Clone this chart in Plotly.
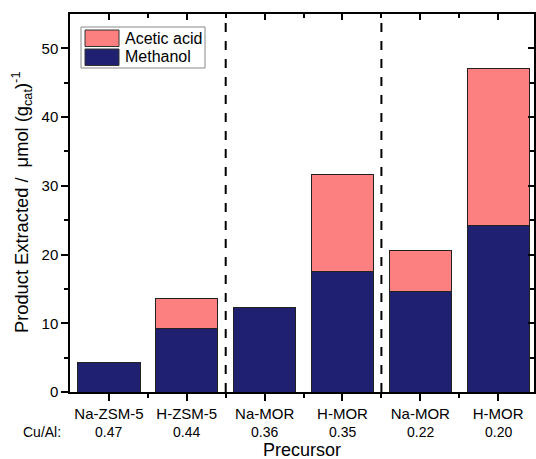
import plotly.graph_objects as go

categories = ["Na-ZSM-5", "H-ZSM-5", "Na-MOR", "H-MOR", "Na-MOR ", "H-MOR "]
tick_labels = ["Na-ZSM-5", "H-ZSM-5", "Na-MOR", "H-MOR", "Na-MOR", "H-MOR"]
cu_al = ["0.47", "0.44", "0.36", "0.35", "0.22", "0.20"]
methanol = [4.3, 9.2, 12.3, 17.6, 14.6, 24.2]
acetic_acid = [0.0, 4.4, 0.0, 14.1, 6.0, 22.8]
dividers = [1.5, 3.5]
series_names = ["Acetic acid", "Methanol"]

FONT = "Liberation Sans, Arial, sans-serif"
NAVY = "#1F2170"
PINK = "#FD8080"
series_colors = [PINK, NAVY]

xpos = list(range(len(categories)))
minor_x = [i + 0.5 for i in xpos[:-1]]

fig = go.Figure()
fig.add_trace(go.Bar(x=xpos, y=methanol, name="Methanol", width=0.8, showlegend=False,
                     marker=dict(color=NAVY, line=dict(color="#222222", width=1))))
fig.add_trace(go.Bar(x=xpos, y=acetic_acid, name="Acetic acid", width=0.8, showlegend=False,
                     marker=dict(color=PINK, line=dict(color="#222222", width=1))))
# invisible trace to activate the mirrored axes
fig.add_trace(go.Scatter(x=[0], y=[0], xaxis="x2", yaxis="y2", mode="markers",
                         marker=dict(opacity=0), showlegend=False, hoverinfo="skip"))

for d in dividers:
    fig.add_shape(type="line", xref="x", yref="paper", x0=d, x1=d, y0=0, y1=1,
                  line=dict(color="black", width=2, dash="dash"))

# legend drawn manually (box, swatches, labels) in pixel-like paper coords
W, H = 464.0, 378.0  # plot area size in px
def px(xp):
    return (xp - 70) / W
def py(yp):
    return (392 - yp) / H

fig.add_shape(type="rect", xref="paper", yref="paper", x0=px(81), x1=px(205), y0=py(68), y1=py(27),
              line=dict(color="#888888", width=1), fillcolor="white", layer="above")
for k, (nm, col) in enumerate(zip(series_names, series_colors)):
    top = 30 + k * 19
    fig.add_shape(type="rect", xref="paper", yref="paper", x0=px(85), x1=px(119),
                  y0=py(top + 16.5), y1=py(top), line=dict(color="#333333", width=1),
                  fillcolor=col, layer="above")
    fig.add_annotation(x=px(123), y=py(top + 8), xref="paper", yref="paper", text=nm,
                       showarrow=False, xanchor="left", yanchor="middle",
                       font=dict(family=FONT, size=16, color="black"))

for i, v in enumerate(cu_al):
    fig.add_annotation(x=i, y=py(432), xref="x", yref="paper", text=v, showarrow=False,
                       font=dict(family=FONT, size=14, color="black"), yanchor="middle")
fig.add_annotation(x=px(63), y=py(432), xref="paper", yref="paper", text="Cu/Al:",
                   showarrow=False, font=dict(family=FONT, size=14, color="black"),
                   xanchor="right", yanchor="middle")
fig.add_annotation(x=0.5, y=py(450), xref="paper", yref="paper", text="Precursor",
                   showarrow=False, font=dict(family=FONT, size=18, color="black"),
                   xanchor="center", yanchor="middle")
fig.add_annotation(x=px(21), y=py(202), xref="paper", yref="paper",
                   text="Product Extracted /  \u03bcmol (g<sub>cat</sub>)<sup>-1</sup>",
                   textangle=-90, showarrow=False, font=dict(family=FONT, size=18.3, color="black"),
                   xanchor="center", yanchor="middle")

common_line = dict(showline=True, linecolor="black", linewidth=1.5, showgrid=False, zeroline=False)

fig.update_layout(
    width=536, height=459,
    margin=dict(l=70, r=2, t=14, b=67, autoexpand=False),
    barmode="stack",
    plot_bgcolor="white", paper_bgcolor="white",
    font=dict(family=FONT, size=14, color="black"),
    showlegend=False,
    xaxis=dict(range=[-0.5, 5.46], tickvals=xpos, ticktext=tick_labels, mirror=True,
               ticks="outside", ticklen=7, tickwidth=1.5, tickcolor="black",
               minor=dict(tickvals=minor_x, ticklen=4, tickwidth=1.5,
                          ticks="outside", tickcolor="black"),
               tickfont=dict(family=FONT, size=15), automargin=False, **common_line),
    xaxis2=dict(range=[-0.5, 5.46], overlaying="x", side="top", anchor="y", tickvals=xpos,
                showticklabels=False,
                ticks="inside", ticklen=6, tickwidth=1.5, tickcolor="black",
                minor=dict(tickvals=minor_x, ticklen=4, tickwidth=1.5,
                           ticks="inside", tickcolor="black"),
                automargin=False, **common_line),
    yaxis=dict(range=[0, 55], tickvals=[0, 10, 20, 30, 40, 50], mirror=True,
               ticks="outside", ticklen=7, tickwidth=1.5, tickcolor="black",
               minor=dict(tickvals=[5, 15, 25, 35, 45], ticklen=4, tickwidth=1.5,
                          ticks="outside", tickcolor="black"),
               tickfont=dict(family=FONT, size=15), automargin=False, **common_line),
    yaxis2=dict(range=[0, 55], overlaying="y", side="right", anchor="x",
                tickvals=[0, 10, 20, 30, 40, 50], showticklabels=False,
                ticks="inside", ticklen=6, tickwidth=1.5, tickcolor="black",
                minor=dict(tickvals=[5, 15, 25, 35, 45], ticklen=4, tickwidth=1.5,
                           ticks="inside", tickcolor="black"),
                automargin=False, **common_line),
)

fig.write_html("out.html", config={"displayModeBar": False},
               post_script="document.body.style.margin='0';document.body.style.padding='0';")
